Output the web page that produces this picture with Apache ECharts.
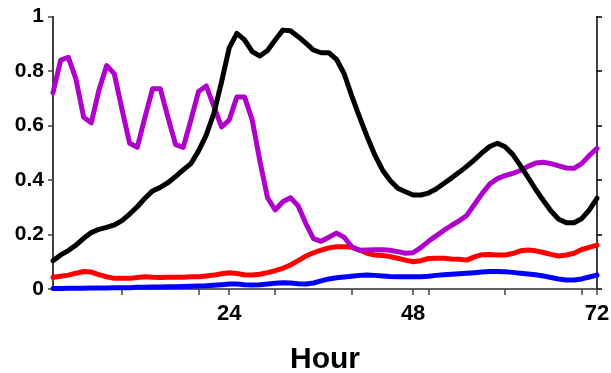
<!DOCTYPE html>
<html>
<head>
<meta charset="utf-8">
<script src="https://cdn.jsdelivr.net/npm/echarts@6/dist/echarts.min.js"></script>
<style>
  html, body { margin: 0; padding: 0; background: #fff; }
  #chart { width: 611px; height: 373px; }
</style>
</head>
<body>
<div id="chart"></div>
<script>
// hours 1..72
const hours = Array.from({ length: 72 }, (_, i) => i + 1)

const blackVals = [
  0.104, 0.125, 0.141, 0.161, 0.186, 0.207, 0.219, 0.226, 0.235, 0.251,
  0.275, 0.302, 0.333, 0.360, 0.373, 0.390, 0.413, 0.437, 0.460, 0.507,
  0.565, 0.645, 0.760, 0.885, 0.938, 0.914, 0.871, 0.855, 0.875, 0.914,
  0.950, 0.948, 0.926, 0.902, 0.877, 0.867, 0.867, 0.843, 0.790, 0.708,
  0.632, 0.559, 0.492, 0.437, 0.398, 0.370, 0.357, 0.345, 0.345, 0.352,
  0.367, 0.387, 0.407, 0.428, 0.450, 0.474, 0.500, 0.523, 0.535, 0.522,
  0.494, 0.453, 0.410, 0.365, 0.325, 0.286, 0.256, 0.243, 0.243, 0.258,
  0.290, 0.333
]

const purpleVals = [
  0.720, 0.840, 0.850, 0.770, 0.630, 0.610, 0.730, 0.820, 0.790, 0.660,
  0.535, 0.520, 0.630, 0.735, 0.735, 0.630, 0.530, 0.520, 0.620, 0.725,
  0.745, 0.670, 0.595, 0.620, 0.705, 0.705, 0.620, 0.470, 0.335, 0.290,
  0.320, 0.335, 0.305, 0.240, 0.185, 0.175, 0.190, 0.205, 0.190, 0.155,
  0.142, 0.143, 0.144, 0.144, 0.142, 0.137, 0.131, 0.133, 0.152, 0.175,
  0.195, 0.215, 0.233, 0.250, 0.270, 0.310, 0.350, 0.385, 0.405, 0.416,
  0.424, 0.435, 0.450, 0.462, 0.465, 0.460, 0.452, 0.444, 0.443, 0.460,
  0.490, 0.516
]

const redVals = [
  0.043, 0.047, 0.051, 0.058, 0.064, 0.062, 0.053, 0.045, 0.039, 0.039,
  0.039, 0.042, 0.045, 0.043, 0.042, 0.043, 0.043, 0.043, 0.045, 0.045,
  0.048, 0.051, 0.056, 0.060, 0.057, 0.052, 0.051, 0.054, 0.060, 0.067,
  0.076, 0.088, 0.104, 0.121, 0.133, 0.143, 0.151, 0.155, 0.155, 0.153,
  0.143, 0.131, 0.125, 0.123, 0.119, 0.113, 0.106, 0.100, 0.104, 0.112,
  0.113, 0.113, 0.110, 0.109, 0.106, 0.118, 0.126, 0.127, 0.125, 0.125,
  0.130, 0.140, 0.143, 0.140, 0.134, 0.127, 0.121, 0.125, 0.131, 0.145,
  0.153, 0.161
]

const blueVals = [
  0.002, 0.002, 0.003, 0.003, 0.003, 0.004, 0.004, 0.004, 0.005, 0.005,
  0.005, 0.006, 0.006, 0.007, 0.007, 0.008, 0.008, 0.009, 0.010, 0.011,
  0.012, 0.014, 0.016, 0.018, 0.018, 0.016, 0.015, 0.016, 0.018, 0.021,
  0.023, 0.022, 0.019, 0.018, 0.022, 0.030, 0.037, 0.041, 0.044, 0.047,
  0.050, 0.051, 0.050, 0.048, 0.046, 0.045, 0.045, 0.045, 0.045, 0.047,
  0.050, 0.052, 0.054, 0.056, 0.058, 0.060, 0.062, 0.064, 0.064, 0.063,
  0.061, 0.058, 0.055, 0.052, 0.048, 0.042, 0.037, 0.033, 0.033, 0.037,
  0.044, 0.051
]

const bottomTicks = [24, 48, 72]
const topTicks = [10, 20, 30, 40, 50, 60, 70]

const font = '"Liberation Sans", Arial, sans-serif'

const chart = echarts.init(document.getElementById('chart'))

const pairs = vals => hours.map((h, i) => [h, vals[i]])

const lineSeries = (vals, color) => ({
  type: 'line',
  data: pairs(vals),
  showSymbol: false,
  symbol: 'none',
  lineStyle: { color, width: 5, join: 'round', cap: 'round' },
  animation: false
})

chart.setOption({
  animation: false,
  grid: { left: 53, right: 14, top: 16.5, bottom: 84, outerBoundsMode: 'none', containLabel: false },
  xAxis: [
    {
      type: 'value',
      position: 'bottom',
      min: 1,
      max: 72,
      name: 'Hour',
      nameLocation: 'middle',
      nameGap: 56,
      nameTextStyle: { fontFamily: font, fontSize: 30, fontWeight: 'bold', color: '#000' },
      axisLine: { lineStyle: { color: '#555', width: 1.5 } },
      axisTick: { show: true, inside: false, length: 6, customValues: bottomTicks, lineStyle: { color: '#444', width: 1.5 } },
      axisLabel: { customValues: bottomTicks, margin: 14, fontFamily: font, fontSize: 22, fontWeight: 'bold', color: '#000' },
      splitLine: { show: false }
    },
    {
      type: 'value',
      position: 'top',
      min: 1,
      max: 72,
      axisLine: { show: true, lineStyle: { color: '#555', width: 1.5 } },
      axisTick: { show: true, inside: true, length: 6, customValues: topTicks, lineStyle: { color: '#444', width: 1.5 } },
      axisLabel: { show: false },
      splitLine: { show: false }
    }
  ],
  yAxis: [
    {
      type: 'value',
      position: 'left',
      min: 0,
      max: 1,
      interval: 0.2,
      axisLine: { show: true, lineStyle: { color: '#000', width: 1.5 } },
      axisTick: { show: true, inside: false, length: 5, lineStyle: { color: '#444', width: 1.5 } },
      axisLabel: { margin: 9, fontFamily: font, fontSize: 21, fontWeight: 'bold', color: '#000' },
      splitLine: { show: false }
    },
    {
      type: 'value',
      position: 'right',
      min: 0,
      max: 1,
      interval: 0.2,
      axisLine: { show: true, lineStyle: { color: '#000', width: 1.5 } },
      axisTick: { show: true, inside: false, length: 5, lineStyle: { color: '#000', width: 1.5 } },
      axisLabel: { show: false },
      splitLine: { show: false }
    }
  ],
  series: [
    lineSeries(blueVals, '#0000ff'),
    lineSeries(redVals, '#ff0000'),
    lineSeries(purpleVals, '#b000cc'),
    lineSeries(blackVals, '#000000')
  ]
})
</script>
</body>
</html>
